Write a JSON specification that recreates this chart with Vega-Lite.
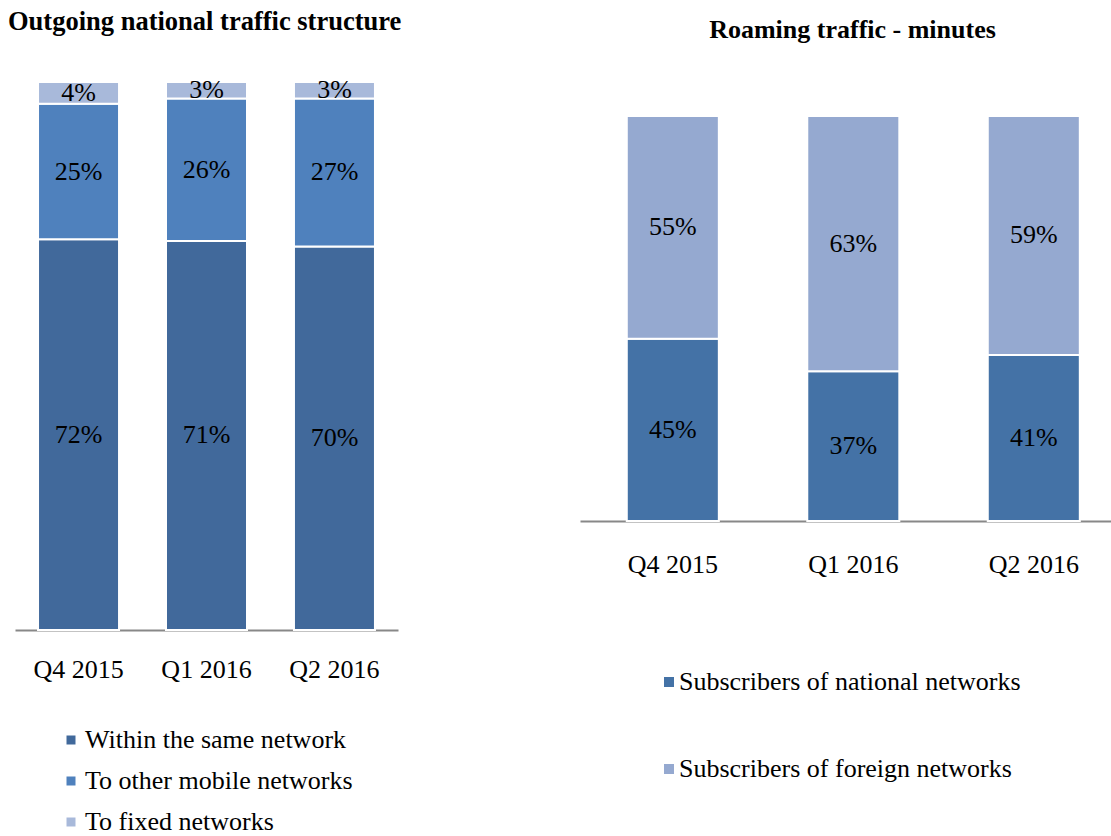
{
  "$schema": "https://vega.github.io/schema/vega-lite/v6.json",
  "autosize": {"type": "none"},
  "padding": {"left": 15, "top": 82, "right": 1096, "bottom": 754},
  "background": "white",
  "bounds": "flush",
  "spacing": 182,
  "config": {"view": {"stroke": null}, "font": "Liberation Serif"},
  "hconcat": [
    {
      "width": 383,
      "height": 548,
      "title": {"text": "Outgoing national traffic structure", "anchor": "start", "frame": "group", "dx": -7, "offset": 42, "font": "Liberation Serif", "fontSize": 26.5, "fontWeight": "bold", "color": "black"},
      "data": {"values": [
        {"quarter": "Q4 2015", "type": "Within the same network", "order": 1, "pct": 72},
        {"quarter": "Q4 2015", "type": "To other mobile networks", "order": 2, "pct": 25},
        {"quarter": "Q4 2015", "type": "To fixed networks", "order": 3, "pct": 4},
        {"quarter": "Q1 2016", "type": "Within the same network", "order": 1, "pct": 71},
        {"quarter": "Q1 2016", "type": "To other mobile networks", "order": 2, "pct": 26},
        {"quarter": "Q1 2016", "type": "To fixed networks", "order": 3, "pct": 3},
        {"quarter": "Q2 2016", "type": "Within the same network", "order": 1, "pct": 70},
        {"quarter": "Q2 2016", "type": "To other mobile networks", "order": 2, "pct": 27},
        {"quarter": "Q2 2016", "type": "To fixed networks", "order": 3, "pct": 3}
      ]},
      "transform": [
        {"stack": "pct", "groupby": ["quarter"], "sort": [{"field": "order", "order": "ascending"}], "offset": "normalize", "as": ["y0", "y1"]},
        {"calculate": "(datum.y0 + datum.y1) / 2", "as": "ymid"},
        {"calculate": "datum.pct + '%'", "as": "label"}
      ],
      "encoding": {
        "x": {
          "field": "quarter", "type": "nominal", "sort": ["Q4 2015", "Q1 2016", "Q2 2016"], "title": null,
          "scale": {"paddingInner": 0.367, "paddingOuter": 0.18},
          "axis": {"labelAngle": 0, "ticks": false, "labelPadding": 26, "labelFont": "Liberation Serif", "labelFontSize": 26, "labelColor": "black", "domainColor": "#888888", "domainWidth": 2, "grid": false}
        }
      },
      "layer": [
        {
          "mark": {"type": "bar", "stroke": "white", "strokeWidth": 2},
          "encoding": {
            "y": {"field": "y0", "type": "quantitative", "scale": {"domain": [0, 1]}, "axis": null},
            "y2": {"field": "y1"},
            "color": {
              "field": "type", "type": "nominal",
              "scale": {"domain": ["Within the same network", "To other mobile networks", "To fixed networks"], "range": ["#41699B", "#4F81BD", "#A8B9DA"]},
              "legend": {"title": null, "orient": "none", "legendX": 43, "legendY": 645, "direction": "vertical", "symbolType": "square", "symbolSize": 81, "symbolStrokeWidth": 0, "labelFont": "Liberation Serif", "labelFontSize": 26, "labelColor": "black", "labelOffset": 1, "rowPadding": 15, "labelLimit": 400}
            }
          }
        },
        {
          "mark": {"type": "text", "font": "Liberation Serif", "fontSize": 26, "color": "black", "baseline": "middle", "align": "center"},
          "encoding": {
            "y": {"field": "ymid", "type": "quantitative", "scale": {"domain": [0, 1]}, "axis": null},
            "text": {"field": "label"}
          }
        }
      ]
    },
    {
      "width": 531,
      "height": 439,
      "title": {"text": "Roaming traffic - minutes", "anchor": "middle", "frame": "group", "dx": 7, "offset": 39, "font": "Liberation Serif", "fontSize": 26, "fontWeight": "bold", "color": "black"},
      "data": {"values": [
        {"quarter": "Q4 2015", "type": "Subscribers of national networks", "order": 1, "pct": 45},
        {"quarter": "Q4 2015", "type": "Subscribers of foreign networks", "order": 2, "pct": 55},
        {"quarter": "Q1 2016", "type": "Subscribers of national networks", "order": 1, "pct": 37},
        {"quarter": "Q1 2016", "type": "Subscribers of foreign networks", "order": 2, "pct": 63},
        {"quarter": "Q2 2016", "type": "Subscribers of national networks", "order": 1, "pct": 41},
        {"quarter": "Q2 2016", "type": "Subscribers of foreign networks", "order": 2, "pct": 59}
      ]},
      "transform": [
        {"stack": "pct", "groupby": ["quarter"], "sort": [{"field": "order", "order": "ascending"}], "offset": "normalize", "as": ["y0", "y1"]},
        {"calculate": "(datum.y0 + datum.y1) / 2", "as": "ymid"},
        {"calculate": "datum.pct + '%'", "as": "label"}
      ],
      "encoding": {
        "x": {
          "field": "quarter", "type": "nominal", "sort": ["Q4 2015", "Q1 2016", "Q2 2016"], "title": null,
          "scale": {"paddingInner": 0.49, "paddingOuter": 0.216, "align": 0.6},
          "axis": {"labelAngle": 0, "ticks": false, "labelPadding": 30, "labelFont": "Liberation Serif", "labelFontSize": 26, "labelColor": "black", "domainColor": "#888888", "domainWidth": 2, "grid": false}
        }
      },
      "layer": [
        {
          "mark": {"type": "bar", "stroke": "white", "strokeWidth": 2},
          "encoding": {
            "y": {"field": "y0", "type": "quantitative", "scale": {"domain": [0, 1.084]}, "axis": null},
            "y2": {"field": "y1"},
            "color": {
              "field": "type", "type": "nominal",
              "scale": {"domain": ["Subscribers of national networks", "Subscribers of foreign networks"], "range": ["#4472A6", "#95A9D0"]},
              "legend": {"title": null, "orient": "none", "legendX": 76, "legendY": 587, "direction": "vertical", "symbolType": "square", "symbolSize": 100, "symbolStrokeWidth": 0, "labelFont": "Liberation Serif", "labelFontSize": 26, "labelColor": "black", "labelOffset": -3, "rowPadding": 61, "labelLimit": 400}
            }
          }
        },
        {
          "mark": {"type": "text", "font": "Liberation Serif", "fontSize": 26, "color": "black", "baseline": "middle", "align": "center"},
          "encoding": {
            "y": {"field": "ymid", "type": "quantitative", "scale": {"domain": [0, 1.084]}, "axis": null},
            "text": {"field": "label"}
          }
        }
      ]
    }
  ],
  "resolve": {"scale": {"color": "independent", "x": "independent", "y": "independent"}, "legend": {"color": "independent"}}
}
